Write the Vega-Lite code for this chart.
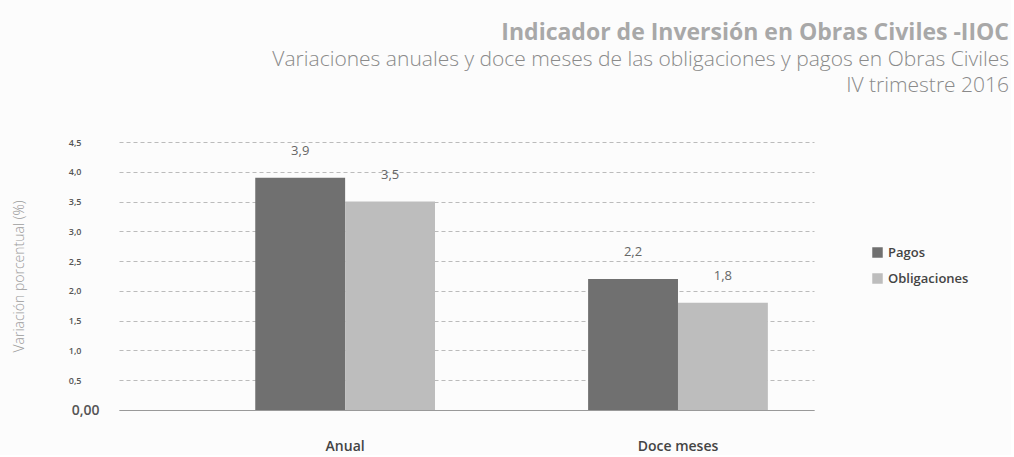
{
  "$schema": "https://vega.github.io/schema/vega-lite/v6.json",
  "width": 695,
  "height": 268,
  "padding": {"left": 12, "top": 22, "right": 2, "bottom": 2},
  "background": "#fcfcfc",
  "title": {
    "text": "Indicador de Inversión en Obras Civiles -IIOC",
    "subtitle": ["Variaciones anuales y doce meses de las obligaciones y pagos en Obras Civiles", "IV trimestre 2016"],
    "anchor": "end",
    "frame": "bounds",
    "dx": 40,
    "font": "Open Sans",
    "fontSize": 23,
    "fontWeight": "bold",
    "color": "#a8a8a8",
    "subtitleFont": "Open Sans",
    "subtitleFontSize": 21,
    "subtitleFontWeight": 300,
    "subtitleColor": "#8a8a8a",
    "subtitlePadding": 4,
    "subtitleLineHeight": 26,
    "offset": 42
  },
  "data": {
    "values": [
      {"periodo": "Anual", "serie": "Pagos", "variacion": 3.9},
      {"periodo": "Anual", "serie": "Obligaciones", "variacion": 3.5},
      {"periodo": "Doce meses", "serie": "Pagos", "variacion": 2.2},
      {"periodo": "Doce meses", "serie": "Obligaciones", "variacion": 1.8}
    ]
  },
  "encoding": {
    "x": {
      "field": "periodo",
      "type": "nominal",
      "sort": ["Anual", "Doce meses"],
      "scale": {"paddingInner": 0.46, "paddingOuter": 0.274, "align": 0.747},
      "axis": {
        "title": null,
        "labelAngle": 0,
        "labelFont": "Open Sans",
        "labelFontSize": 14,
        "labelFontWeight": 600,
        "labelColor": "#444444",
        "labelPadding": 29,
        "ticks": false,
        "domainColor": "#999999",
        "grid": false
      }
    },
    "xOffset": {"field": "serie", "type": "nominal", "sort": ["Pagos", "Obligaciones"], "scale": {"paddingInner": 0, "paddingOuter": 0}},
    "y": {
      "field": "variacion",
      "type": "quantitative",
      "scale": {"domain": [0, 4.5], "nice": false},
      "axis": {
        "title": "Variación porcentual (%)",
        "titleFont": "Open Sans",
        "titleFontSize": 14,
        "titleFontWeight": 300,
        "titleColor": "#9a9a9a",
        "titlePadding": 42,
        "values": [0, 0.5, 1, 1.5, 2, 2.5, 3, 3.5, 4, 4.5],
        "labelExpr": "datum.value == 0 ? '0,00' : replace(format(datum.value, '.1f'), '.', ',')",
        "labelFont": "Open Sans",
        "labelFontSize": {"condition": {"test": "datum.value == 0", "value": 14}, "value": 9},
        "labelFontWeight": 600,
        "labelColor": "#555555",
        "labelPadding": {"condition": {"test": "datum.value == 0", "value": 20}, "value": 38},
        "ticks": false,
        "domain": false,
        "grid": true,
        "gridColor": "#bbbbbb",
        "gridDash": [4, 3],
        "gridWidth": 1
      }
    }
  },
  "layer": [
    {
      "mark": {"type": "bar"},
      "encoding": {
        "color": {
          "field": "serie",
          "type": "nominal",
          "sort": ["Pagos", "Obligaciones"],
          "scale": {"domain": ["Pagos", "Obligaciones"], "range": ["#707070", "#bdbdbd"]},
          "legend": {
            "title": null,
            "orient": "none",
            "legendX": 752,
            "legendY": 104,
            "symbolType": "square",
            "symbolSize": 110,
            "symbolStrokeWidth": 0,
            "labelFont": "Open Sans",
            "labelFontSize": 13,
            "labelFontWeight": 600,
            "labelColor": "#444444",
            "rowPadding": 12
          }
        }
      }
    },
    {
      "mark": {"type": "text", "baseline": "bottom", "dy": -20, "font": "Open Sans", "fontSize": 13, "color": "#666666"},
      "encoding": {
        "text": {"field": "variacion", "type": "quantitative", "format": ".1f", "formatType": "number"}
      }
    }
  ],
  "config": {"view": {"stroke": null}, "locale": {"number": {"decimal": ",", "thousands": ".", "grouping": [3], "currency": ["", ""]}}}
}
